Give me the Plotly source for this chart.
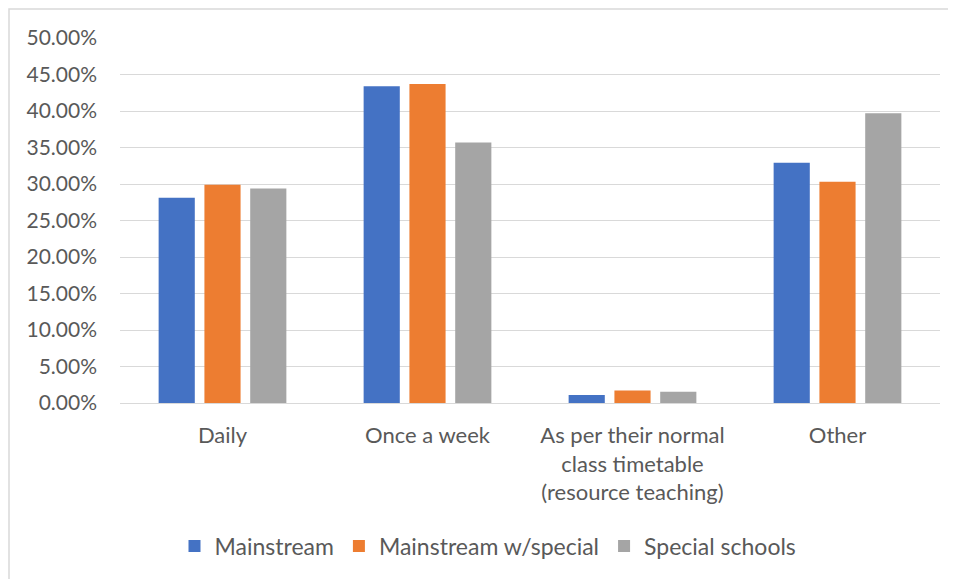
import plotly.graph_objects as go

categories = ["Daily", "Once a week", "As per their normal<br>class timetable<br>(resource teaching)", "Other"]
series_names = ["Mainstream", "Mainstream w/special", "Special schools"]
mainstream = [0.281, 0.434, 0.011, 0.329]
mainstream_special = [0.299, 0.437, 0.017, 0.303]
special_schools = [0.294, 0.357, 0.0155, 0.397]
colors = ["#4472C4", "#ED7D31", "#A5A5A5"]
y_ticks = [0.0, 0.05, 0.10, 0.15, 0.20, 0.25, 0.30, 0.35, 0.40, 0.45, 0.50]

FONT = "Lato"
TXT = "#595959"
GRID = "#D9D9D9"

# page body has an 8px margin; work in page coordinates minus 8
OFF = 8
W, H = 956 - OFF, 579 - OFF
L, T = 120 - OFF, 38 - OFF
R = W - (940 - OFF)
B = H - (403 - OFF)
pw = W - L - R
ph = H - T - B

def px_x(x):
    return (x - OFF - L) / pw

def px_y(y):
    return ((T + ph) - (y - OFF)) / ph

fig = go.Figure()
for name, vals, c in zip(series_names, [mainstream, mainstream_special, special_schools], colors):
    fig.add_trace(go.Bar(x=categories, y=vals, name=name, marker=dict(color=c, line=dict(width=0))))

fig.update_layout(
    width=W, height=H,
    margin=dict(l=L, r=R, t=T, b=B),
    paper_bgcolor="white", plot_bgcolor="white",
    barmode="group", bargap=0.33, bargroupgap=0.21,
    font=dict(family=FONT, size=22, color=TXT),
    showlegend=True,
    legend=dict(orientation="h", x=px_x(488), xanchor="center",
                y=px_y(546), yanchor="middle",
                font=dict(family=FONT, size=23, color=TXT),
                traceorder="normal"),
    xaxis=dict(showgrid=False, showline=False, zeroline=False, ticks="",
               tickfont=dict(family=FONT, size=22, color=TXT), ticklabelstandoff=17),
    yaxis=dict(range=[0, 0.5], tickvals=y_ticks, tickformat=".2%",
               showgrid=True, gridcolor=GRID, gridwidth=1,
               zeroline=True, zerolinecolor=GRID, zerolinewidth=1,
               showline=False, ticks="",
               tickfont=dict(family=FONT, size=21, color=TXT), ticklabelstandoff=22),
    shapes=[dict(type="rect", xref="paper", yref="paper",
                 x0=px_x(9), x1=px_x(1030),
                 y0=px_y(640), y1=px_y(9),
                 line=dict(color=GRID, width=1.5), fillcolor="rgba(0,0,0,0)", layer="below")],
)

fig.write_html("out.html")
